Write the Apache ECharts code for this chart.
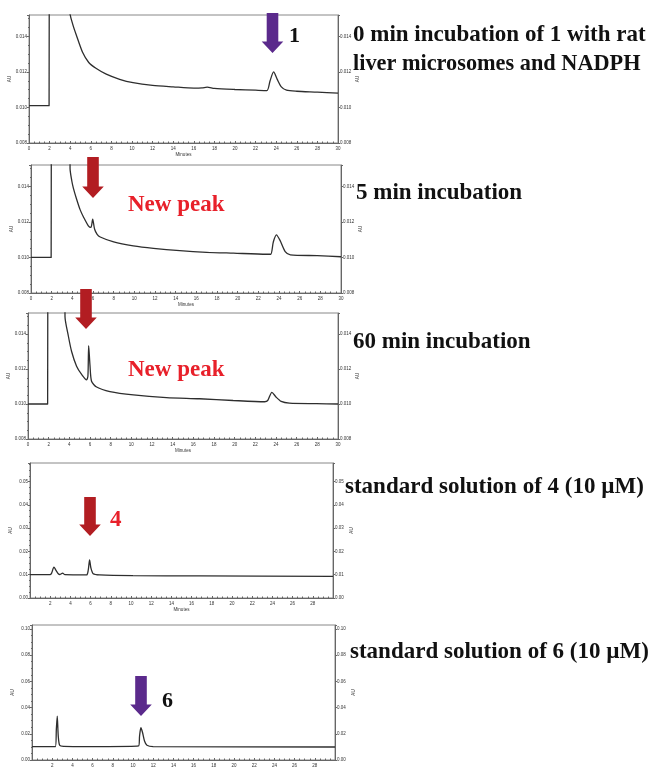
<!DOCTYPE html>
<html>
<head>
<meta charset="utf-8">
<script src="https://cdn.jsdelivr.net/npm/echarts@6/dist/echarts.min.js"></script>
<style>
html,body{margin:0;padding:0;background:#fff;}
#chart{width:650px;height:768px;}
</style>
</head>
<body>
<div id="chart"></div>
<script>
// Retention times (min) and absorbances (AU)
const t1 = [0, 1.95, 2.0, 3.9, 3.95, 4.27, 4.6, 5.2, 5.8, 6.5, 7.5, 8.8, 10.1, 12, 14, 16, 16.8, 17.3, 18, 20, 22, 23.1, 23.4, 23.75, 24.1, 24.5, 25, 26, 28, 30];
const v1 = [0.0101, 0.0101, 0.03, 0.03, 0.0154, 0.01463, 0.01406, 0.0131, 0.01253, 0.0122, 0.01187, 0.01158, 0.01139, 0.01124, 0.01116, 0.01109, 0.0111, 0.01114, 0.01107, 0.01101, 0.01097, 0.01095, 0.01149, 0.0120, 0.01158, 0.01116, 0.01097, 0.01091, 0.01086, 0.0108];

const t2 = [0, 1.95, 2.0, 3.7, 3.78, 3.95, 4.1, 4.4, 4.75, 5.1, 5.55, 5.8, 5.97, 6.15, 6.4, 6.7, 8, 9.9, 11.85, 14.4, 17, 19.6, 22.8, 23.2, 23.45, 23.75, 24.1, 24.6, 25.1, 27.7, 30];
const v2 = [0.0100, 0.0100, 0.03, 0.03, 0.0150, 0.0143, 0.0139, 0.0133, 0.01269, 0.01225, 0.01178, 0.01169, 0.01215, 0.0116, 0.0113, 0.01115, 0.01087, 0.01065, 0.01051, 0.01038, 0.01029, 0.01024, 0.01018, 0.01018, 0.01087, 0.01127, 0.01096, 0.01033, 0.01015, 0.0101, 0.01004];

const t3 = [0, 1.9, 1.95, 3.5, 3.58, 3.9, 4.22, 4.7, 5.19, 5.67, 5.8, 5.87, 6.0, 6.15, 6.64, 7.93, 10.2, 13.4, 16.6, 19.85, 22.9, 23.2, 23.6, 24.0, 24.5, 25.3, 27.9, 30];
const v3 = [0.0100, 0.0100, 0.03, 0.03, 0.0150, 0.0139, 0.0130, 0.01216, 0.01169, 0.01138, 0.0116, 0.01334, 0.0122, 0.0113, 0.01097, 0.01071, 0.01052, 0.01037, 0.0103, 0.0102, 0.01013, 0.0102, 0.01067, 0.0104, 0.01015, 0.01005, 0.01002, 0.0100];

const t4 = [0, 1.98, 2.14, 2.37, 2.57, 2.8, 2.97, 3.23, 3.46, 5.6, 5.77, 5.9, 6.03, 6.26, 6.9, 10.2, 16.8, 30];
const v4 = [0.0100, 0.0100, 0.0107, 0.0133, 0.0119, 0.0104, 0.0101, 0.0107, 0.0100, 0.0099, 0.0121, 0.0164, 0.0129, 0.0104, 0.0099, 0.0096, 0.0095, 0.0093];

const t5 = [0, 2.31, 2.41, 2.5, 2.6, 2.74, 3.13, 6.76, 10.55, 10.65, 10.78, 10.95, 11.14, 11.38, 12.0, 30];
const v5 = [0.0102, 0.0102, 0.0234, 0.0335, 0.0183, 0.0112, 0.0104, 0.0102, 0.0107, 0.0183, 0.0246, 0.0208, 0.0145, 0.0112, 0.0102, 0.0099];

// Axis tick settings
const xTicks = [0, 30, 2];
const yTicksUpper = [0.008, 0.0152, 0.002];
const yTicks4 = [0, 0.058, 0.01];
const yTicks5 = [0, 0.103, 0.02];

// Panel texts
const panelTitles = [
  ['0 min incubation of 1 with rat', 'liver microsomes and NADPH'],
  ['5 min incubation'],
  ['60 min incubation'],
  ['standard solution of 4 (10 \u00b5M)'],
  ['standard solution of 6 (10 \u00b5M)']
];
const newPeakLabel = 'New peak';
const compoundLabels = ['1', '4', '6'];

const grids = [
  {left: 29, top: 15, width: 309, height: 128},
  {left: 31, top: 165, width: 310, height: 128},
  {left: 28, top: 313, width: 310, height: 126},
  {left: 30, top: 463, width: 303, height: 135},
  {left: 32, top: 625, width: 303, height: 137}
];

const traces = [[t1, v1], [t2, v2], [t3, v3], [t4, v4], [t5, v5]];
const yRanges = [yTicksUpper, yTicksUpper, yTicksUpper, yTicks4, yTicks5];
const yDecimals = [3, 3, 3, 2, 2];

const chart = echarts.init(document.getElementById('chart'), null, {renderer: 'canvas'});

const tinyFont = 4.5;
const axisColor = '#666';

const option = {
  animation: false,
  backgroundColor: '#fff',
  grid: grids.map(g => Object.assign({show: true, borderColor: '#888', borderWidth: 1, backgroundColor: 'transparent'}, g)),
  xAxis: grids.map((g, i) => ({
    type: 'value', gridIndex: i,
    min: xTicks[0], max: xTicks[1], interval: xTicks[2],
    name: i < 4 ? 'Minutes' : '', nameLocation: 'middle', nameGap: 9,
    nameTextStyle: {fontSize: tinyFont, color: '#333', fontFamily: 'Liberation Sans'},
    axisLine: {show: true, onZero: false, lineStyle: {color: axisColor, width: 1}},
    axisTick: {show: true, inside: true, length: 2, lineStyle: {color: axisColor}},
    minorTick: {show: true, splitNumber: 4, length: 1.5, lineStyle: {color: axisColor}},
    splitLine: {show: false},
    axisLabel: {fontSize: tinyFont, color: '#333', margin: 3, fontFamily: 'Liberation Sans',
      showMinLabel: i < 3, showMaxLabel: i < 3}
  })),
  yAxis: [].concat(...grids.map((g, i) => {
    const r = yRanges[i];
    const base = {
      type: 'value', gridIndex: i, min: r[0], max: r[1], interval: r[2],
      nameLocation: 'middle',
      nameTextStyle: {fontSize: tinyFont, color: '#333', fontFamily: 'Liberation Sans'},
      axisLine: {show: true, lineStyle: {color: axisColor, width: 1}},
      axisTick: {show: true, inside: false, length: 2, lineStyle: {color: axisColor}},
      minorTick: {show: true, splitNumber: 4, length: 1, lineStyle: {color: axisColor}},
      splitLine: {show: false},
      axisLabel: {fontSize: tinyFont, color: '#333', margin: 2, fontFamily: 'Liberation Sans',
        showMaxLabel: false,
        formatter: v => v.toFixed(yDecimals[i])}
    };
    return [
      Object.assign({}, base, {position: 'left', name: 'AU', nameGap: 17}),
      Object.assign({}, base, {position: 'right', name: 'AU', nameGap: 16})
    ];
  })),
  series: traces.map((tr, i) => ({
    type: 'line', xAxisIndex: i, yAxisIndex: i * 2,
    data: tr[0].map((t, k) => [t, tr[1][k]]),
    showSymbol: false, symbol: 'none', clip: true,
    smooth: 0.25,
    lineStyle: {color: '#2e2e2e', width: 1.3}
  })),
  graphic: []
};

function arrow(cx, top, tip, color) {
  const sw = 5.8, hw = 10.8, hh = 11.5;
  return {
    type: 'polygon',
    shape: {points: [[cx - sw, top], [cx + sw, top], [cx + sw, tip - hh], [cx + hw, tip - hh], [cx, tip], [cx - hw, tip - hh], [cx - sw, tip - hh]]},
    style: {fill: color}, z: 100
  };
}
function label(x, y, text, size, color) {
  return {
    type: 'text', x: x, y: y, z: 100,
    style: {text: text, fill: color, font: 'bold ' + size + 'px "Liberation Serif", "Times New Roman", serif', textVerticalAlign: 'middle', textAlign: 'left'}
  };
}

const purple = '#5b2a8c';
const red = '#b21d22';
const brightRed = '#e8202a';

option.graphic = [
  arrow(272.5, 13, 53, purple),
  arrow(93, 157, 198, red),
  arrow(86, 289, 329, red),
  arrow(90, 497, 536, red),
  arrow(141, 676, 716, purple),
  label(289, 36, compoundLabels[0], 22, '#111'),
  label(110, 520, compoundLabels[1], 23, brightRed),
  label(162, 701, compoundLabels[2], 22, '#111'),
  label(128, 205, newPeakLabel, 23, brightRed),
  label(128, 370, newPeakLabel, 23, brightRed),
  label(353, 35, panelTitles[0][0], 23, '#111'),
  label(353, 64, panelTitles[0][1], 22.3, '#111'),
  label(356, 193, panelTitles[1][0], 23, '#111'),
  label(353, 342, panelTitles[2][0], 23, '#111'),
  label(345, 487, panelTitles[3][0], 23, '#111'),
  label(350, 652, panelTitles[4][0], 23, '#111')
];

chart.setOption(option);
</script>
</body>
</html>
